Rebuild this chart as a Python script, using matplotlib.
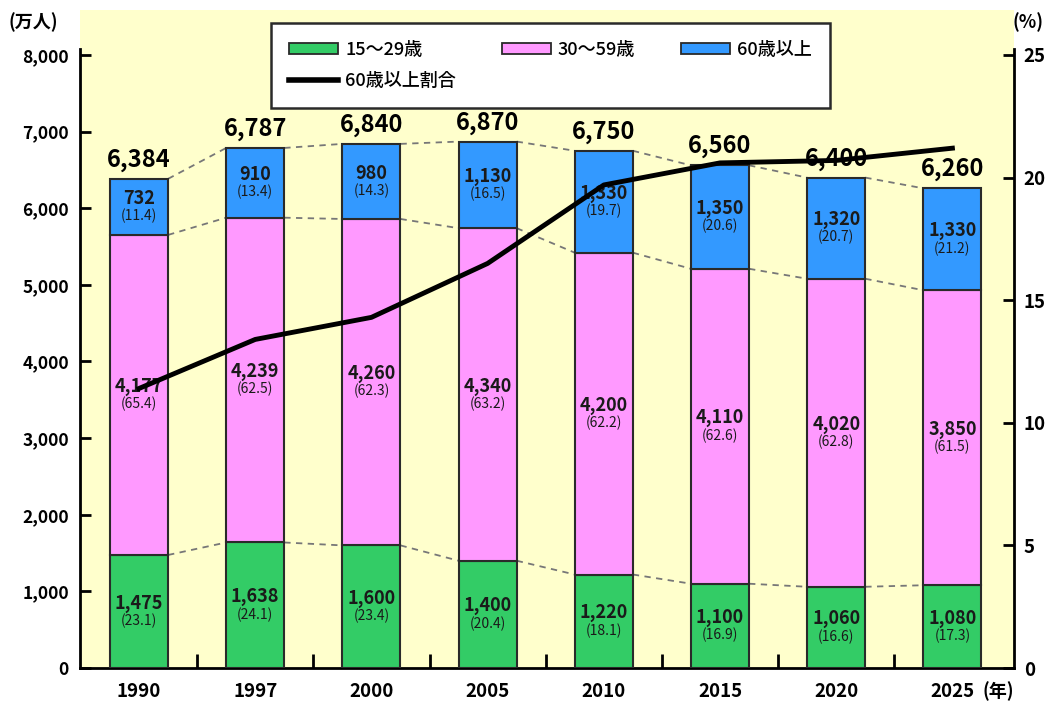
import numpy as np
import matplotlib
matplotlib.use('Agg')
import matplotlib.pyplot as plt
from matplotlib.lines import Line2D

plt.rcParams['font.family'] = ['Noto Sans CJK JP', 'DejaVu Sans']

years = ['1990', '1997', '2000', '2005', '2010', '2015', '2020', '2025']
young = [1475, 1638, 1600, 1400, 1220, 1100, 1060, 1080]
middle = [4177, 4239, 4260, 4340, 4200, 4110, 4020, 3850]
old = [732, 910, 980, 1130, 1330, 1350, 1320, 1330]
totals = ['6,384', '6,787', '6,840', '6,870', '6,750', '6,560', '6,400', '6,260']
young_pct = [23.1, 24.1, 23.4, 20.4, 18.1, 16.9, 16.6, 17.3]
middle_pct = [65.4, 62.5, 62.3, 63.2, 62.2, 62.6, 62.8, 61.5]
old_pct = [11.4, 13.4, 14.3, 16.5, 19.7, 20.6, 20.7, 21.2]

c_green = '#33CC66'
c_pink = '#FF99FF'
c_blue = '#3399FF'
bg = '#FFFFCC'
edge = '#2a2a2a'

W, H = 1054, 702
fig = plt.figure(figsize=(W / 100, H / 100), dpi=100)
# plot area: left spine x=80, right spine x=1014, baseline y=668, 8000 at y=55, yellow to y=10
ax = fig.add_axes([80 / W, 34 / H, (1014 - 80) / W, (668 - 10) / H])
ax.set_facecolor(bg)
ymax = 8000 * (668 - 10) / (668 - 55)
ax.set_ylim(0, ymax)
ax.set_xlim(-0.508, 7.53)

x = np.arange(len(years))
young = np.array(young)
middle = np.array(middle)
old = np.array(old)
w = 0.5
ekw = dict(edgecolor=edge, linewidth=1.5, zorder=3)
ax.bar(x, young, w, color=c_green, **ekw)
ax.bar(x, middle, w, bottom=young, color=c_pink, **ekw)
ax.bar(x, old, w, bottom=young + middle, color=c_blue, **ekw)

# dashed connectors between segment tops
for tops in (young, young + middle, young + middle + old):
    for i in range(len(x) - 1):
        ax.plot([x[i] + w / 2, x[i + 1] - w / 2], [tops[i], tops[i + 1]],
                ls=(0, (3.5, 3)), color='#777777', lw=1.3, zorder=2)

def seg_label(xi, yc, val, pct):
    ax.text(xi, yc + 110, f'{val:,}', ha='center', va='center', fontsize=13,
            fontweight='bold', color='#1a1a1a', zorder=5)
    ax.text(xi, yc - 120, f'({pct})', ha='center', va='center', fontsize=10,
            color='#1a1a1a', zorder=5)

for i in range(len(x)):
    seg_label(x[i], young[i] / 2, young[i], young_pct[i])
    seg_label(x[i], young[i] + middle[i] / 2, middle[i], middle_pct[i])
    seg_label(x[i], young[i] + middle[i] + old[i] / 2, old[i], old_pct[i])
    ax.text(x[i], young[i] + middle[i] + old[i] + 90, totals[i], ha='center',
            va='bottom', fontsize=17, fontweight='bold', zorder=5)

# axes styling
ax.spines['top'].set_visible(False)
ax.spines['right'].set_visible(False)
ax.spines['left'].set_bounds(0, 8080)
ax.spines['left'].set_linewidth(2)
ax.spines['bottom'].set_linewidth(2)
ax.set_yticks(np.arange(0, 8001, 1000))
ax.set_yticklabels([f'{v:,}' for v in range(0, 8001, 1000)])
ax.tick_params(axis='y', direction='in', length=8, width=2, labelsize=12.5, pad=8)
ax.set_xticks(x)
ax.set_xticklabels(years)
ax.tick_params(axis='x', length=0, labelsize=13.5, pad=10)
ax.set_xticks(x[:-1] + 0.5, minor=True)
ax.tick_params(axis='x', which='minor', direction='in', length=10, width=2)
for lab in ax.get_yticklabels() + ax.get_xticklabels():
    lab.set_fontweight('bold')

ax2 = ax.twinx()
ax2.set_ylim(0, 25 * ymax / 8000)
ax2.plot(x, old_pct, color='black', lw=3.5, zorder=6)
for s in ['top', 'left', 'bottom']:
    ax2.spines[s].set_visible(False)
ax2.spines['right'].set_bounds(0, 25.25)
ax2.spines['right'].set_linewidth(2)
ax2.set_yticks(np.arange(0, 26, 5))
ax2.tick_params(axis='y', direction='in', length=8, width=2, labelsize=13.5, pad=7)
for lab in ax2.get_yticklabels():
    lab.set_fontweight('bold')

fig.text(8 / W, 1 - 22 / H, '(万人)', fontsize=13, fontweight='bold', va='center')
fig.text(1013 / W, 1 - 22 / H, '(%)', fontsize=13, fontweight='bold', va='center')
fig.text(983 / W, 1 - 691 / H, '(年)', fontsize=13, fontweight='bold', va='center')

handles = [plt.Rectangle((0, 0), 1, 1, facecolor=c_green, edgecolor=edge, lw=1.3),
           Line2D([0], [0], color='black', lw=4),
           plt.Rectangle((0, 0), 1, 1, facecolor=c_pink, edgecolor=edge, lw=1.3),
           plt.Rectangle((0, 0), 1, 1, facecolor=c_blue, edgecolor=edge, lw=1.3)]
labels = ['15～29歳', '60歳以上割合', '30～59歳', '60歳以上']
leg = ax2.legend(handles, labels, ncol=3, loc='upper left',
                 bbox_to_anchor=(271 / W, 1 - 23 / H, 559 / W, 0),
                 bbox_transform=fig.transFigure, mode='expand', borderaxespad=0,
                 fontsize=13, fancybox=False, framealpha=1, edgecolor=edge,
                 handlelength=2.7, handleheight=0.6, borderpad=1.0,
                 labelspacing=0.7, handletextpad=0.4)
leg.get_frame().set_linewidth(1.8)
for t in leg.get_texts():
    t.set_fontweight('medium')

fig.savefig('out.png', dpi=100)
